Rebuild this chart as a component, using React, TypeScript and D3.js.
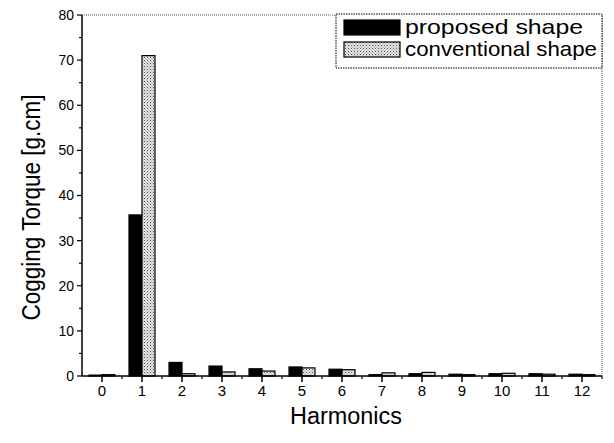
import React from "react";
import * as d3 from "d3";

const harmonics = ["0", "1", "2", "3", "4", "5", "6", "7", "8", "9", "10", "11", "12"];
const proposed = [0.2, 35.7, 3.0, 2.2, 1.6, 2.0, 1.5, 0.3, 0.5, 0.4, 0.5, 0.5, 0.4];
const conventional = [0.3, 71.0, 0.5, 0.9, 1.1, 1.8, 1.4, 0.7, 0.8, 0.3, 0.6, 0.4, 0.3];
const seriesNames = ["proposed shape", "conventional shape"];
const yTicks = [0, 10, 20, 30, 40, 50, 60, 70, 80];
const yMinor = [5, 15, 25, 35, 45, 55, 65, 75];

const W = 614, H = 443;
const left = 82, right = 602, top = 15, bottom = 376;

export default function App() {
  const x = d3.scaleBand<string>().domain(harmonics).range([left, right]).paddingInner(0.35).paddingOuter(0.175);
  const xs = d3.scaleBand<string>().domain(seriesNames).range([0, x.bandwidth()]);
  const y = d3.scaleLinear().domain([0, 80]).range([bottom, top]);
  const step = x.step();
  const center = (h: string) => (x(h) as number) + x.bandwidth() / 2;
  const font = "Arial, 'Liberation Sans', sans-serif";
  const series = [
    { name: seriesNames[0], values: proposed, fill: "#000", len: 178 },
    { name: seriesNames[1], values: conventional, fill: "url(#dots)", len: 192 },
  ];
  return (
    <svg width={W} height={H} style={{ position: "absolute", left: 0, top: 0, background: "#fff" }} fontFamily={font}>
      <defs>
        <pattern id="dots" width="3" height="3" patternUnits="userSpaceOnUse">
          <rect width="3" height="3" fill="#e4e4e4" />
          <rect width="1" height="1" fill="#555" />
          <rect x="1.5" y="1.5" width="1" height="1" fill="#888" />
        </pattern>
      </defs>
      <line x1={left} x2={right} y1={top} y2={top} stroke="#555" strokeDasharray="1,1" />
      <line x1={right} x2={right} y1={top} y2={bottom} stroke="#555" strokeDasharray="1,1" />
      {series.map((s) =>
        s.values.map((v, i) => {
          const h = harmonics[i];
          const bx = (x(h) as number) + (xs(s.name) as number);
          return (
            <rect key={s.name + h} x={bx} y={y(v)} width={xs.bandwidth()} height={bottom - y(v)}
              fill={s.fill} stroke="#000" strokeWidth={1.2} />
          );
        })
      )}
      <line x1={left} x2={left} y1={top} y2={bottom} stroke="#000" strokeWidth={1.5} />
      <line x1={left} x2={right} y1={bottom} y2={bottom} stroke="#000" strokeWidth={1.5} />
      {yTicks.map((t) => (
        <g key={"y" + t}>
          <line x1={left - 5} x2={left} y1={y(t)} y2={y(t)} stroke="#000" strokeWidth={1.2} />
          <text x={left - 8} y={y(t)} dy="0.35em" textAnchor="end" fontSize={14}>{t}</text>
        </g>
      ))}
      {yMinor.map((t) => (
        <line key={"ym" + t} x1={left - 3} x2={left} y1={y(t)} y2={y(t)} stroke="#000" strokeWidth={1.2} />
      ))}
      {harmonics.map((h) => (
        <g key={"x" + h}>
          <line x1={center(h)} x2={center(h)} y1={bottom} y2={bottom + 6} stroke="#000" strokeWidth={1.5} />
          <line x1={center(h) + step / 2} x2={center(h) + step / 2} y1={bottom} y2={bottom + 3} stroke="#000" strokeWidth={1.2} />
          <text x={center(h)} y={bottom + 20} textAnchor="middle" fontSize={15}>{h}</text>
        </g>
      ))}
      <text x={(left + right) / 2 + 4} y={424} textAnchor="middle" fontSize={23} textLength={112} lengthAdjust="spacingAndGlyphs">Harmonics</text>
      <text transform={`translate(40,${(top + bottom) / 2 + 12}) rotate(-90)`} textAnchor="middle" fontSize={25} textLength={226} lengthAdjust="spacingAndGlyphs">Cogging Torque [g.cm]</text>
      <rect x={336} y={14} width={266} height={54} fill="#fff" stroke="#000" strokeDasharray="1.5,1" />
      {series.map((s, i) => (
        <g key={"lg" + s.name}>
          <rect x={344} y={20 + i * 22} width={56} height={15} fill={s.fill} stroke="#000" strokeWidth={1.2} />
          <text x={405} y={34 + i * 22} fontSize={21} textLength={s.len} lengthAdjust="spacingAndGlyphs">{s.name}</text>
        </g>
      ))}
    </svg>
  );
}
